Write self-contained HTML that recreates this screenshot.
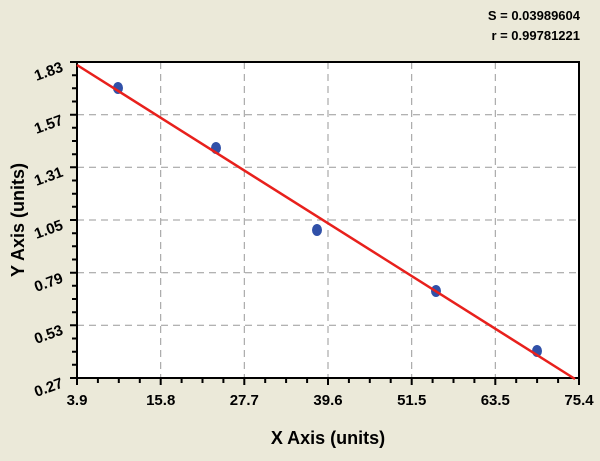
<!DOCTYPE html>
<html><head><style>
body{margin:0;background:#ebe9d9;}
svg{display:block;font-family:"Liberation Sans",sans-serif;font-weight:bold;}
</style></head><body>
<svg width="600" height="461" viewBox="0 0 600 461">
<rect width="600" height="461" fill="#ebe9d9"/>
<text x="580" y="20" font-size="13" text-anchor="end">S = 0.03989604</text>
<text x="580" y="40" font-size="13" text-anchor="end">r = 0.99781221</text>
<rect x="77" y="62" width="502" height="316" fill="#fff"/>
<g stroke="#999" stroke-dasharray="7,5" stroke-width="1">
<line x1="160.7" y1="62" x2="160.7" y2="378"/>
<line x1="244.3" y1="62" x2="244.3" y2="378"/>
<line x1="328" y1="62" x2="328" y2="378"/>
<line x1="411.7" y1="62" x2="411.7" y2="378"/>
<line x1="495.3" y1="62" x2="495.3" y2="378"/>
<line x1="77" y1="114.7" x2="579" y2="114.7"/>
<line x1="77" y1="167.3" x2="579" y2="167.3"/>
<line x1="77" y1="220" x2="579" y2="220"/>
<line x1="77" y1="272.7" x2="579" y2="272.7"/>
<line x1="77" y1="325.3" x2="579" y2="325.3"/>
</g>
<rect x="77" y="62" width="502" height="316" fill="none" stroke="#000" stroke-width="2"/>
<g stroke="#000" stroke-width="2">
<path d="M77 378v7M97.9 378v5M118.8 378v5M139.8 378v5M160.7 378v7M181.6 378v5M202.5 378v5M223.4 378v5M244.3 378v7M265.2 378v5M286.1 378v5M307.1 378v5M328 378v7M348.9 378v5M369.8 378v5M390.7 378v5M411.7 378v7M432.6 378v5M453.5 378v5M474.4 378v5M495.3 378v7M516.2 378v5M537.1 378v5M558.1 378v5M579 378v7"/>
<path d="M77 62h-7M77 75.2h-5M77 88.3h-5M77 101.5h-5M77 114.7h-7M77 127.8h-5M77 141h-5M77 154.2h-5M77 167.3h-7M77 180.5h-5M77 193.7h-5M77 206.8h-5M77 220h-7M77 233.2h-5M77 246.3h-5M77 259.5h-5M77 272.7h-7M77 285.8h-5M77 299h-5M77 312.2h-5M77 325.3h-7M77 338.5h-5M77 351.7h-5M77 364.8h-5M77 378h-7"/>
</g>
<g font-size="15" text-anchor="middle">
<text x="77" y="405">3.9</text><text x="160.7" y="405">15.8</text><text x="244.3" y="405">27.7</text><text x="328" y="405">39.6</text><text x="411.7" y="405">51.5</text><text x="495.3" y="405">63.5</text><text x="579" y="405">75.4</text>
</g>
<g font-size="15" text-anchor="end">
<text transform="translate(64,71) rotate(-20)">1.83</text>
<text transform="translate(64,124) rotate(-20)">1.57</text>
<text transform="translate(64,176) rotate(-20)">1.31</text>
<text transform="translate(64,229) rotate(-20)">1.05</text>
<text transform="translate(64,282) rotate(-20)">0.79</text>
<text transform="translate(64,334) rotate(-20)">0.53</text>
<text transform="translate(64,387) rotate(-20)">0.27</text>
</g>
<text x="328" y="444" font-size="18" text-anchor="middle">X Axis (units)</text>
<text transform="translate(24,220) rotate(-90)" font-size="18" text-anchor="middle">Y Axis (units)</text>
<g fill="#3050a8">
<ellipse cx="118" cy="88" rx="5" ry="6"/>
<ellipse cx="216" cy="148" rx="5" ry="6"/>
<ellipse cx="317" cy="230" rx="5" ry="6"/>
<ellipse cx="436" cy="291" rx="5" ry="6"/>
<ellipse cx="537" cy="351" rx="5" ry="6"/>
</g>
<line x1="77" y1="65" x2="575" y2="379" stroke="#e8201c" stroke-width="2.5"/>
</svg>
</body></html>
